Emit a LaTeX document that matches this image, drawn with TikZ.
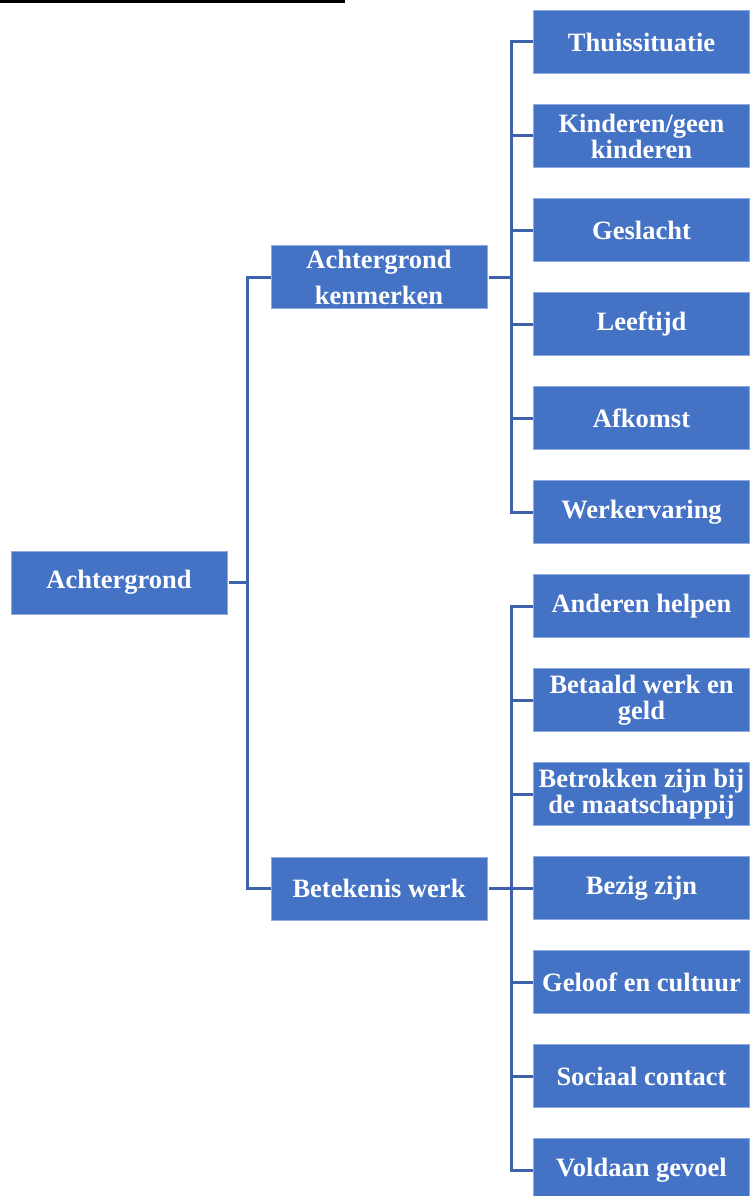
\documentclass[tikz,border=0pt]{standalone}
\usepackage{fontspec}
\setmainfont{Liberation Serif}
\definecolor{boxblue}{HTML}{4472C4}
\definecolor{linkblue}{HTML}{3E62A9}
\begin{document}
\begin{tikzpicture}[x=1pt,y=-1pt,
  box/.style={fill=boxblue, draw=boxblue!60!white, line width=0.8pt,
    minimum width=216pt, minimum height=63pt, inner sep=1pt,
    text=white, align=center, font=\fontsize{26.5}{26}\selectfont\bfseries},
  link/.style={draw=linkblue, line width=3pt}]
\useasboundingbox (0,0) rectangle (753,1196);
\begin{scope}
\clip (0,0) rectangle (753,1196);

% heading underline
\draw[line width=3pt] (0,2) -- (345,2);

% root
\node[box] (root) at (119,582.5) {Achtergrond};

% second level
\node[box, font=\fontsize{26.5}{36}\selectfont\bfseries] (ak) at (379,277) {Achtergrond\\kenmerken};
\node[box] (bw) at (379,888.5) {Betekenis werk};

% third level: background characteristics
\node[box] (a1) at (641.5,42)  {Thuissituatie};
\node[box] (a2) at (641.5,136) {Kinderen/geen\\kinderen};
\node[box] (a3) at (641.5,230) {Geslacht};
\node[box] (a4) at (641.5,324) {Leeftijd};
\node[box] (a5) at (641.5,418) {Afkomst};
\node[box] (a6) at (641.5,512) {Werkervaring};

% third level: meaning of work
\node[box] (b1) at (641.5,606)  {Anderen helpen};
\node[box] (b2) at (641.5,700)  {Betaald werk en\\geld};
\node[box] (b3) at (641.5,794)  {Betrokken zijn bij\\de maatschappij};
\node[box] (b4) at (641.5,888)  {Bezig zijn};
\node[box] (b5) at (641.5,982)  {Geloof en cultuur};
\node[box] (b6) at (641.5,1076) {Sociaal contact};
\node[box] (b7) at (641.5,1170) {Voldaan gevoel};

% buses
\coordinate (rbus) at (247,582.5);
\coordinate (abus) at (511,277);
\coordinate (bbus) at (511,888.5);

% connectors from the root
\draw[link] (root.east) ++(1.5,0) -- (rbus);
\draw[link] (rbus) |- (ak.west);
\draw[link] (rbus) |- (bw.west);

% connectors to background characteristics
\draw[link] (ak.east) ++(1.5,0) -- (abus);
\foreach \n in {a1,a2,a3,a4,a5,a6}
  \draw[link] (abus) |- (\n.west);

% connectors to meaning of work
\draw[link] (bw.east) ++(1.5,0) -- (bbus);
\foreach \n in {b1,b2,b3,b4,b5,b6,b7}
  \draw[link] (bbus) |- (\n.west);
\end{scope}
\end{tikzpicture}
\end{document}
